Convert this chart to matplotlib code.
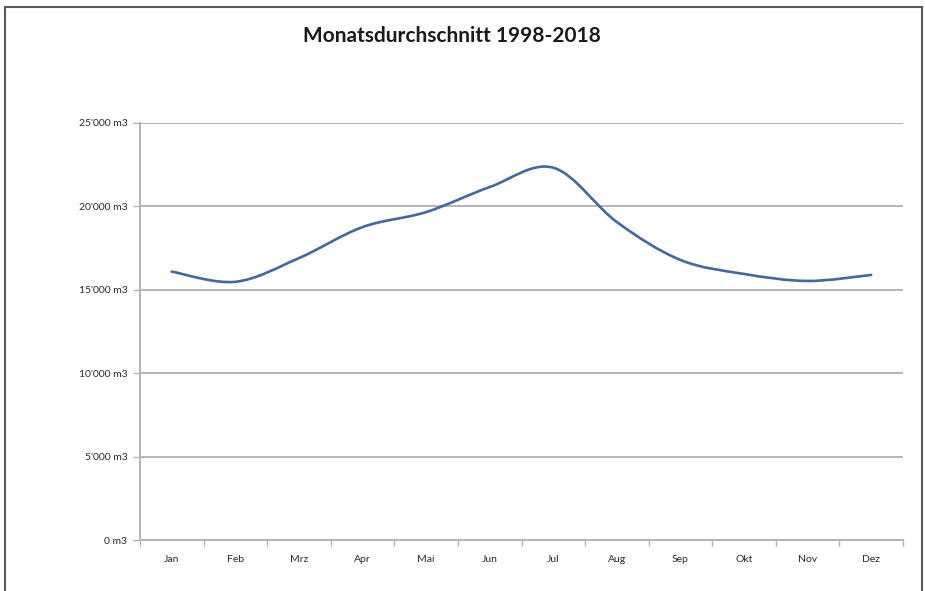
import numpy as np
import matplotlib.pyplot as plt
from matplotlib.path import Path
from matplotlib.patches import PathPatch, Rectangle

monate = ['Jan', 'Feb', 'Mrz', 'Apr', 'Mai', 'Jun', 'Jul', 'Aug', 'Sep', 'Okt', 'Nov', 'Dez']
werte = [16090, 15480, 16900, 18760, 19660, 21160, 22320, 19060, 16790, 15950, 15530, 15890]
y_ticks = [0, 5000, 10000, 15000, 20000, 25000]
y_labels = ['0 m3', "5'000 m3", "10'000 m3", "15'000 m3", "20'000 m3", "25'000 m3"]

plt.rcParams['font.family'] = ['Lato', 'DejaVu Sans']

fig = plt.figure(figsize=(9.25, 5.91), dpi=100)
ax = fig.add_axes([140 / 925, 1 - 540 / 591, 763 / 925, 417 / 591])

# geglaettete Linie wie in Excel (Bezier durch die Datenpunkte)
x = np.arange(len(werte), dtype=float)
y = np.array(werte, dtype=float)
pts = np.column_stack([x, y])
ext = np.vstack([pts[0], pts, pts[-1]])
verts = [pts[0]]
codes = [Path.MOVETO]
for i in range(len(pts) - 1):
    p0, p1, p2, p3 = ext[i], ext[i + 1], ext[i + 2], ext[i + 3]
    verts += [p1 + (p2 - p0) / 6, p2 - (p3 - p1) / 6, p2]
    codes += [Path.CURVE4] * 3
ax.add_patch(PathPatch(Path(verts, codes), fill=False, edgecolor='#44679c',
                       lw=1.9, capstyle='round', zorder=3))

ax.set_xlim(-0.5, len(monate) - 0.5)
ax.set_ylim(0, 25000)
ax.set_yticks(y_ticks)
ax.set_yticklabels(y_labels)
ax.yaxis.grid(True, color='#b4b4b4', lw=1.4)
ax.set_axisbelow(True)

ax.set_xticks(np.arange(len(monate) + 1) - 0.5)
ax.set_xticklabels([])
ax.set_xticks(x, minor=True)
ax.set_xticklabels(monate, minor=True)
ax.tick_params(axis='x', which='major', length=4, color='#b4b4b4', width=1)
ax.tick_params(axis='x', which='minor', length=0, pad=11, labelsize=7.5, labelcolor='#2a2a2a')
ax.tick_params(axis='y', length=5, color='#b4b4b4', width=1, pad=4, labelsize=7.5, labelcolor='#2a2a2a')

for s in ['top', 'right']:
    ax.spines[s].set_visible(False)
ax.spines['left'].set_color('#b4b4b4')
ax.spines['left'].set_linewidth(1.4)
ax.spines['bottom'].set_color('#b4b4b4')
ax.spines['bottom'].set_linewidth(1.4)

fig.text(452 / 925, 1 - 36 / 591, 'Monatsdurchschnitt 1998-2018', ha='center', va='center',
         fontsize=15, fontweight='bold', color='#1a1a1a')

# Rahmen um das Diagramm
fig.patches.append(Rectangle((5 / 925, -0.05), 917 / 925, 1.05 - 7 / 591, transform=fig.transFigure,
                             fill=False, edgecolor='#5a5a5a', lw=1.5))

fig.savefig('out.png', dpi=100)
